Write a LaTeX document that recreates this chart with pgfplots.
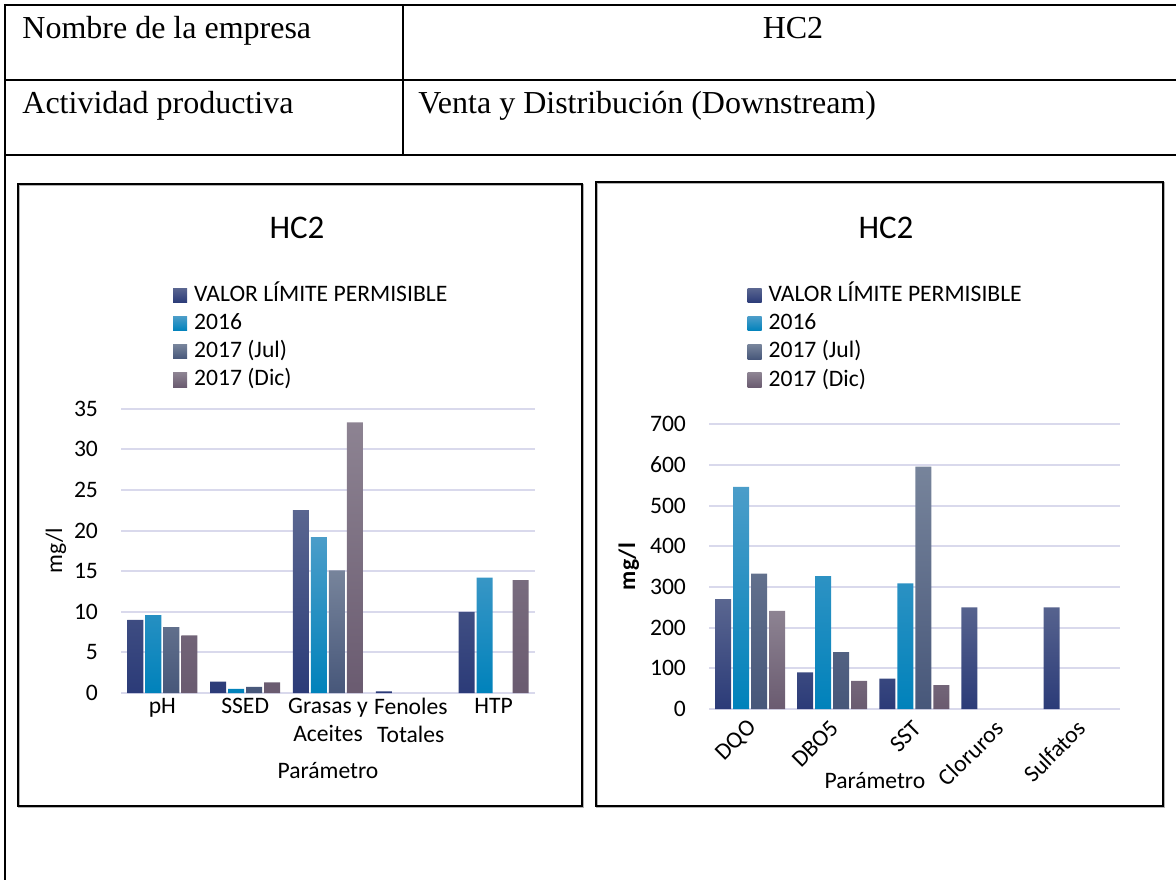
\documentclass[border=0pt]{standalone}
\usepackage{pgfplots}
\pgfplotsset{compat=1.18}
\usepackage{fontspec}
\setmainfont{Liberation Serif}
\newfontfamily\carlito{Carlito}

% bar colours (top / bottom of the vertical gradient)
\definecolor{vlpT}{HTML}{5A6690}
\definecolor{vlpB}{HTML}{2B3B78}
\definecolor{ySixT}{HTML}{4B9DC9}
\definecolor{ySixB}{HTML}{0082BB}
\definecolor{julT}{HTML}{77849B}
\definecolor{julB}{HTML}{47577A}
\definecolor{dicT}{HTML}{8D8392}
\definecolor{dicB}{HTML}{6A5B70}
\definecolor{gridc}{HTML}{D9D9EC}

\newcommand{\chartfont}{\carlito\fontsize{11.8}{14}\selectfont}

\pgfplotsset{
  every axis title/.style={at={(0.5,1)}, anchor=center},
  sqlegend/.style={legend image code/.code={%
      \path[##1] (0pt,-3.6pt) rectangle (7pt,3.6pt);
      \path (0pt,0pt) -- (9.5pt,0pt);}},
  hcchart/.style={
    scale only axis,
    ybar=1pt, bar width=8pt,
    xmin=-0.5, xmax=4.5, xtick={0,...,4}, ymin=0,
    axis line style={draw=none},
    tick style={draw=none},
    major tick length=0pt,
    ymajorgrids,
    major grid style={gridc, line width=1pt},
    /pgf/number format/assume math mode=true,
    tick label style={font=\chartfont},
    yticklabel style={anchor=east, xshift=-8pt},
    label style={font=\chartfont},
    title style={font=\carlito\fontsize{16.5}{20}\selectfont},
    legend style={draw=none, fill=none, anchor=north west,
      font=\chartfont, row sep=0.1pt, inner sep=0pt,
      nodes={inner sep=1pt, text height=9pt, text depth=3pt}},
    legend cell align=left,
  },
  vlp/.style={draw=none, top color=vlpT, bottom color=vlpB, sqlegend},
  ysix/.style={draw=none, top color=ySixT, bottom color=ySixB, sqlegend},
  jul/.style={draw=none, top color=julT, bottom color=julB, sqlegend},
  dic/.style={draw=none, top color=dicT, bottom color=dicB, sqlegend},
}

\begin{document}
\begin{tikzpicture}
\useasboundingbox (0pt,0pt) rectangle (588pt,-439.5pt);

% table frame
\begin{scope}[line width=1.2pt]
  \draw (2.5pt,-1.9pt) -- (2.5pt,-440pt);
  \draw (1.9pt,-2.5pt) -- (590pt,-2.5pt);
  \draw (2.5pt,-40pt) -- (590pt,-40pt);
  \draw (2.5pt,-77.5pt) -- (590pt,-77.5pt);
  \draw (201.5pt,-2.5pt) -- (201.5pt,-77.5pt);
\end{scope}
\node[anchor=base west, inner sep=0pt, font=\fontsize{16}{19}\selectfont] at (11pt,-19pt) {Nombre de la empresa};
\node[anchor=base, inner sep=0pt, font=\fontsize{16}{19}\selectfont] at (396.5pt,-19pt) {HC2};
\node[anchor=base west, inner sep=0pt, font=\fontsize{16}{19}\selectfont] at (11pt,-56.5pt) {Actividad productiva};
\node[anchor=base west, inner sep=0pt, font=\fontsize{16}{19}\selectfont] at (209pt,-56.5pt) {Venta y Distribución (Downstream)};

% chart frames
\draw[gray!60, line width=0.6pt] (9.5pt,-92.5pt) rectangle (291.5pt,-403.5pt);
\draw[line width=1pt] (9pt,-92pt) rectangle (291pt,-403pt);
\draw[gray!60, line width=0.6pt] (298.5pt,-91.5pt) rectangle (582pt,-403.5pt);
\draw[line width=1pt] (298pt,-91pt) rectangle (581.5pt,-403pt);

% left chart
\begin{axis}[hcchart,
  at={(60.5pt,-346.5pt)}, anchor=south west,
  width=207pt, height=142.2pt,
  ymax=35, ytick={0,5,...,35},
  xticklabels={pH, SSED, {Grasas y\\Aceites}, {Fenoles\\Totales}, HTP},
  xticklabel style={align=center, yshift=1pt},
  xlabel={Parámetro},
  xlabel style={at={(axis description cs:0.5,0)}, anchor=center, yshift=-39pt},
  ylabel={mg/l},
  ylabel style={at={(axis description cs:-0.157,0.5)}, anchor=center, rotate=0},
  title={HC2},
  title style={at={(axis description cs:0.425,1.635)}},
  legend style={at={(axis description cs:0.125,1.449)}},
]
\addplot[vlp] coordinates {(0,9) (1,1.4) (2,22.5) (3,0.2) (4,10)};
\addplot[ysix] coordinates {(0,9.6) (1,0.5) (2,19.2) (4,14.2)};
\addplot[jul] coordinates {(0,8.1) (1,0.75) (2,15.1)};
\addplot[dic] coordinates {(0,7.1) (1,1.3) (2,33.3) (4,13.9)};
\legend{VALOR LÍMITE PERMISIBLE, 2016, 2017 (Jul), 2017 (Dic)}
\end{axis}

% right chart
\begin{axis}[hcchart,
  at={(354.5pt,-354.5pt)}, anchor=south west,
  width=205.3pt, height=142.35pt,
  ymax=700, ytick={0,100,...,700},
  xticklabels={DQO, DBO5, SST, Cloruros, Sulfatos},
  xticklabel style={rotate=45, anchor=east, xshift=-1pt, yshift=-6.5pt},
  xlabel={Parámetro},
  xlabel style={at={(axis description cs:0.404,0)}, anchor=center, yshift=-36pt},
  ylabel={\bfseries mg/l},
  ylabel style={at={(axis description cs:-0.195,0.5)}, anchor=center, rotate=0},
  title={HC2},
  title style={at={(axis description cs:0.431,1.69)}},
  legend style={at={(axis description cs:0.093,1.503)}},
]
\addplot[vlp] coordinates {(0,270) (1,90) (2,75) (3,250) (4,250)};
\addplot[ysix] coordinates {(0,546) (1,327) (2,309)};
\addplot[jul] coordinates {(0,333) (1,140) (2,596)};
\addplot[dic] coordinates {(0,241) (1,69) (2,59)};
\legend{VALOR LÍMITE PERMISIBLE, 2016, 2017 (Jul), 2017 (Dic)}
\end{axis}
\end{tikzpicture}
\end{document}
